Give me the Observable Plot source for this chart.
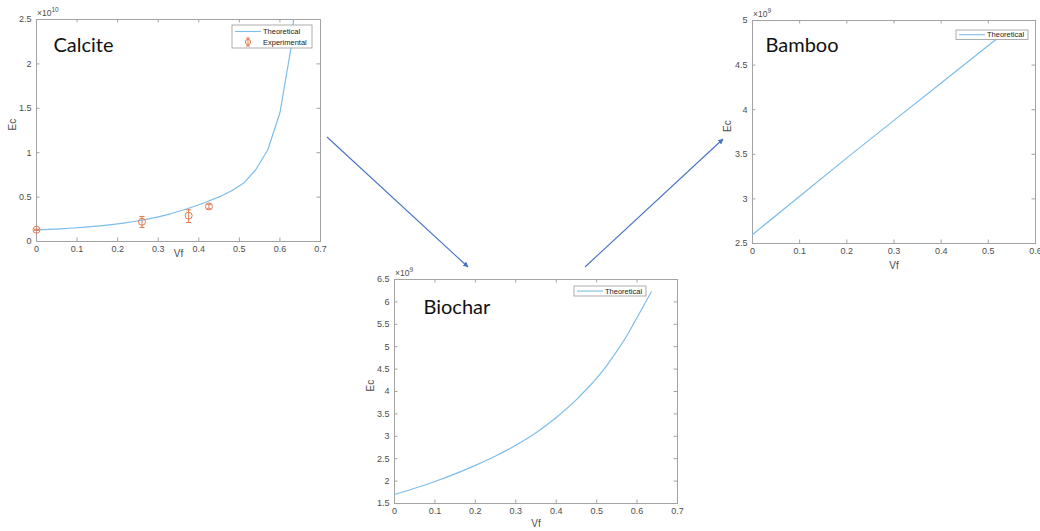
<!DOCTYPE html>
<html><head><meta charset="utf-8">
<script src="https://cdn.jsdelivr.net/npm/d3@7"></script>
<script src="https://cdn.jsdelivr.net/npm/@observablehq/plot@0.6"></script>
<style>
body{margin:0;background:#fff;}
#wrap{position:relative;width:1040px;height:531px;overflow:hidden;background:#fff;font-family:"Liberation Sans",Arial,sans-serif;}
#wrap svg{position:absolute;}
</style></head><body><div id="wrap"></div>
<script>
// ---- data ----
const calciteVf = [0,0.03,0.06,0.09,0.12,0.15,0.18,0.21,0.24,0.27,0.30,0.33,0.36,0.39,0.42,0.45,0.48,0.51,0.54,0.57,0.60,0.63,0.66];
const calciteEc = [1.30e9,1.36e9,1.43e9,1.52e9,1.62e9,1.74e9,1.88e9,2.05e9,2.25e9,2.50e9,2.78e9,3.12e9,3.52e9,3.97e9,4.47e9,5.02e9,5.68e9,6.55e9,8.05e9,1.03e10,1.45e10,2.25e10,4.5e10];
const expVf = [0, 0.26, 0.375, 0.425];
const expEc = [1.32e9, 2.22e9, 2.90e9, 3.95e9];
const expLo = [1.25e9, 1.58e9, 2.14e9, 3.68e9];
const expHi = [1.39e9, 2.82e9, 3.57e9, 4.20e9];

const biocharVf = [0,0.05,0.10,0.15,0.20,0.25,0.30,0.35,0.40,0.45,0.475,0.50,0.525,0.55,0.575,0.60,0.635];
const biocharEc = [1.70e9,1.84e9,1.99e9,2.16e9,2.35e9,2.56e9,2.80e9,3.08e9,3.42e9,3.82e9,4.05e9,4.30e9,4.58e9,4.90e9,5.25e9,5.65e9,6.22e9];

const bambooVf = [0,0.1,0.2,0.3,0.4,0.5,0.53];
const bambooEc = [2.60e9,3.03e9,3.46e9,3.88e9,4.30e9,4.72e9,4.84e9];

const xTicks07 = [0,0.1,0.2,0.3,0.4,0.5,0.6,0.7];
const xTicks06 = [0,0.1,0.2,0.3,0.4,0.5,0.6];
const calciteYTicks = [0,0.5e10,1e10,1.5e10,2e10,2.5e10];
const biocharYTicks = [1.5e9,2e9,2.5e9,3e9,3.5e9,4e9,4.5e9,5e9,5.5e9,6e9,6.5e9];
const bambooYTicks = [2.5e9,3e9,3.5e9,4e9,4.5e9,5e9];

// ---- styles ----
const LINE = "#7dbdea";
const ORANGE = "#e07a4f";
const AXIS = "#a3a3a3";
const TXT = "#4d4d4d";
const ARROW = "#4472c4";

const capSymbol = {draw(ctx, size){ const r = Math.sqrt(size/Math.PI); ctx.moveTo(-r,0); ctx.lineTo(r,0);} };

function fmt(v){ return String(+v.toFixed(2)); }

function panel(o){
  const W = o.width - o.ml - o.mr, H = o.height - o.mt - o.mb;
  const annot = (index, scales, values, dims) => {
    const g = d3.create("svg:g").attr("font-family","Liberation Sans, Arial, sans-serif").attr("text-anchor", "start");
    // exponent
    const ex = g.append("text").attr("x", dims.marginLeft + 1).attr("y", dims.marginTop - 3)
      .attr("fill", TXT).attr("font-size", 8.5).attr("text-anchor", "start");
    ex.append("tspan").text("×10");
    ex.append("tspan").attr("dy", -4).attr("font-size", 6.5).text(o.exp);
    // legend
    const lx = dims.width - dims.marginRight - o.legRight - o.legW;
    const ly = dims.marginTop + o.legTop;
    g.append("rect").attr("x", lx).attr("y", ly).attr("width", o.legW).attr("height", o.legH)
      .attr("fill", "#fff").attr("stroke", "#9a9a9a").attr("stroke-width", 0.8);
    o.legItems.forEach((it, i) => {
      const cy = ly + (o.legItems.length === 1 ? o.legH/2 : 6.5 + i*10.5);
      if (it.kind === "line") {
        g.append("line").attr("x1", lx+3).attr("x2", lx+29).attr("y1", cy).attr("y2", cy)
          .attr("stroke", LINE).attr("stroke-width", 1.1);
      } else {
        const cx = lx + 16;
        g.append("line").attr("x1", cx).attr("x2", cx).attr("y1", cy-4).attr("y2", cy+4).attr("stroke", ORANGE);
        g.append("line").attr("x1", cx-2).attr("x2", cx+2).attr("y1", cy-4).attr("y2", cy-4).attr("stroke", ORANGE);
        g.append("line").attr("x1", cx-2).attr("x2", cx+2).attr("y1", cy+4).attr("y2", cy+4).attr("stroke", ORANGE);
        g.append("circle").attr("cx", cx).attr("cy", cy).attr("r", 2.6).attr("fill", "none").attr("stroke", ORANGE);
      }
      g.append("text").attr("x", lx+31).attr("y", cy).attr("dy", "0.35em").attr("font-size", 7.5)
        .attr("text-anchor", "start").attr("fill", "#222").text(it.label);
    });
    return g.node();
  };
  const svg = Plot.plot({
    width: o.width, height: o.height,
    marginLeft: o.ml, marginRight: o.mr, marginTop: o.mt, marginBottom: o.mb,
    x: {domain: o.xDomain},
    y: {domain: o.yDomain},
    style: {fontFamily: "Liberation Sans, Arial, sans-serif", fontSize: "9px", background: "transparent", overflow: "visible", color: TXT},
    marks: [
      Plot.frame({stroke: AXIS}),
      Plot.tickX(o.xTicks, {x: d => d, insetTop: H - 3.5, stroke: AXIS}),
      Plot.tickX(o.xTicks, {x: d => d, insetBottom: H - 3.5, stroke: AXIS}),
      Plot.tickY(o.yTicks, {y: d => d, insetRight: W - 3.5, stroke: AXIS}),
      Plot.tickY(o.yTicks, {y: d => d, insetLeft: W - 3.5, stroke: AXIS}),
      Plot.axisX({ticks: o.xTicks, tickSize: 0, tickPadding: 4, tickFormat: fmt, label: null, color: TXT, fontSize: 9}),
      Plot.axisY({ticks: o.yTicks, tickSize: 0, tickPadding: 5, tickFormat: d => fmt(d / o.yUnit), label: null, color: TXT, fontSize: 9}),
      Plot.text(["Vf"], {text: d => d, frameAnchor: "bottom", dy: o.vfDy, lineAnchor: "middle", fontSize: 10, fill: TXT}),
      Plot.text(["Ec"], {text: d => d, frameAnchor: "left", dx: o.ecDx, rotate: -90, fontSize: 10, fill: TXT}),
      Plot.text([o.title], {text: d => d, frameAnchor: "top-left", dx: o.tDx, dy: o.tDy, textAnchor: "start", lineAnchor: "middle", fontSize: 20, fill: "#111", fontFamily: "Lato, 'Open Sans', sans-serif"}),
      ...o.marks,
      annot
    ]
  });
  svg.style.left = o.left + "px";
  svg.style.top = o.top + "px";
  return svg;
}

const wrap = document.getElementById("wrap");

wrap.appendChild(panel({
  left: 0, top: 0, width: 330, height: 265, ml: 36, mr: 10, mt: 19, mb: 24,
  xDomain: [0, 0.7], yDomain: [0, 2.5e10], xTicks: xTicks07, yTicks: calciteYTicks, yUnit: 1e10, exp: "10",
  title: "Calcite", tDx: 17, tDy: 26, vfDy: 12, ecDx: -24,
  legRight: 8, legTop: 6, legW: 80, legH: 23,
  legItems: [{kind: "line", label: "Theoretical"}, {kind: "err", label: "Experimental"}],
  marks: [
    Plot.line(calciteVf, {x: d => d, y: (d, i) => calciteEc[i], stroke: LINE, strokeWidth: 1.2, clip: true}),
    Plot.ruleX(expVf, {x: d => d, y1: (d, i) => expLo[i], y2: (d, i) => expHi[i], stroke: ORANGE}),
    Plot.dot(expVf, {x: d => d, y: (d, i) => expLo[i], symbol: capSymbol, r: 2.5, stroke: ORANGE, strokeWidth: 1}),
    Plot.dot(expVf, {x: d => d, y: (d, i) => expHi[i], symbol: capSymbol, r: 2.5, stroke: ORANGE, strokeWidth: 1}),
    Plot.dot(expVf, {x: d => d, y: (d, i) => expEc[i], r: 3.5, stroke: ORANGE, fill: "none", strokeWidth: 1})
  ]
}));

wrap.appendChild(panel({
  left: 360, top: 262, width: 330, height: 269, ml: 34, mr: 13, mt: 17, mb: 28,
  xDomain: [0, 0.7], yDomain: [1.5e9, 6.5e9], xTicks: xTicks07, yTicks: biocharYTicks, yUnit: 1e9, exp: "9",
  title: "Biochar", tDx: 29, tDy: 28, vfDy: 20, ecDx: -24,
  legRight: 31, legTop: 7, legW: 72, legH: 10,
  legItems: [{kind: "line", label: "Theoretical"}],
  marks: [
    Plot.line(biocharVf, {x: d => d, y: (d, i) => biocharEc[i], stroke: LINE, strokeWidth: 1.2, clip: true, curve: "monotone-x"})
  ]
}));

wrap.appendChild(panel({
  left: 710, top: 0, width: 330, height: 270, ml: 42, mr: 5, mt: 20, mb: 27,
  xDomain: [0, 0.6], yDomain: [2.5e9, 5e9], xTicks: xTicks06, yTicks: bambooYTicks, yUnit: 1e9, exp: "9",
  title: "Bamboo", tDx: 13, tDy: 25, vfDy: 22, ecDx: -25,
  legRight: 7, legTop: 10, legW: 72, legH: 9.5,
  legItems: [{kind: "line", label: "Theoretical"}],
  marks: [
    Plot.line(bambooVf, {x: d => d, y: (d, i) => bambooEc[i], stroke: LINE, strokeWidth: 1.2, clip: true})
  ]
}));

// connector arrows
const ov = d3.select(wrap).append("svg").attr("width", 1040).attr("height", 531)
  .style("left", "0px").style("top", "0px").style("pointer-events", "none");
ov.append("defs").append("marker").attr("id", "ah").attr("viewBox", "0 0 10 10")
  .attr("refX", 9).attr("refY", 5).attr("markerWidth", 5.5).attr("markerHeight", 5.5)
  .attr("markerUnits", "userSpaceOnUse").attr("orient", "auto")
  .append("path").attr("d", "M0,0 L10,5 L0,10 z").attr("fill", ARROW);
const arrows = [[327, 137, 468, 267], [585, 267, 723, 139]];
ov.selectAll("line.arr").data(arrows).join("line").attr("class", "arr")
  .attr("x1", d => d[0]).attr("y1", d => d[1]).attr("x2", d => d[2]).attr("y2", d => d[3])
  .attr("stroke", ARROW).attr("stroke-width", 1.1).attr("marker-end", "url(#ah)");
</script></body></html>
